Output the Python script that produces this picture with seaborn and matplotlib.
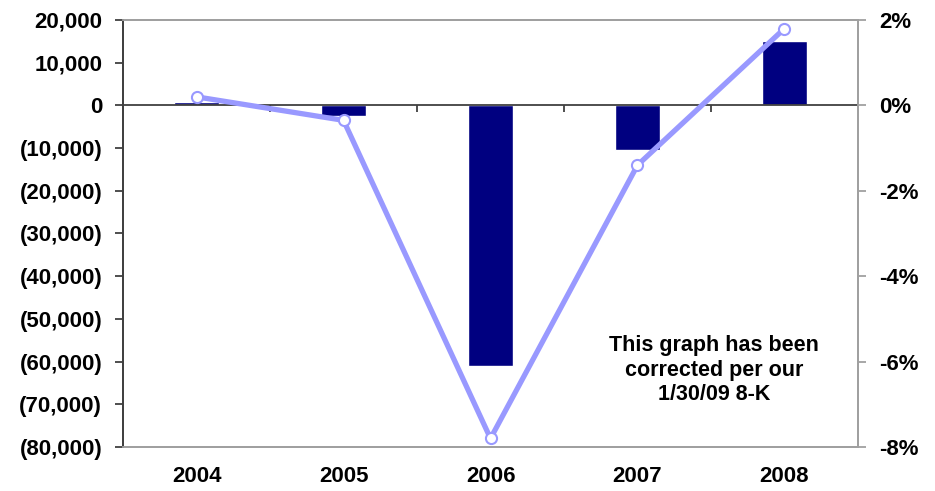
import numpy as np
import pandas as pd
import matplotlib
matplotlib.use("Agg")
import matplotlib.pyplot as plt
import seaborn as sns
from matplotlib.ticker import FuncFormatter

# values
years = ["2004", "2005", "2006", "2007", "2008"]
net_income = [800, -2500, -61000, -10500, 15000]
margin_pct = [0.2, -0.35, -7.8, -1.4, 1.8]
left_ticks = list(range(-80000, 20001, 10000))
right_ticks = list(range(-8, 3, 2))
note = "This graph has been\ncorrected per our\n1/30/09 8-K"

sns.set_style("white")
plt.rcParams['font.family'] = ['Liberation Sans', 'DejaVu Sans']
plt.rcParams['font.weight'] = 'bold'
plt.rcParams['text.color'] = 'black'
plt.rcParams['xtick.labelcolor'] = 'black'
plt.rcParams['ytick.labelcolor'] = 'black'

df = pd.DataFrame({"year": years, "income": net_income, "margin": margin_pct})

fig = plt.figure(figsize=(9.35, 4.91), dpi=100)
ax = fig.add_axes([0.1316, 0.0896, 0.786, 0.8697])

sns.barplot(data=df, x="year", y="income", color="#000080", width=0.3,
            saturation=1, ax=ax)
ax.axhline(0, color="#404040", lw=1.3, zorder=3)
# small separators between categories on the zero line
ax.vlines(np.arange(len(years) - 1) + 0.5, -1600, 0, color="#404040", lw=1.3)

ax.set_ylim(-80000, 20000)
ax.set_yticks(left_ticks)
ax.yaxis.set_major_formatter(FuncFormatter(
    lambda v, p: f"{v:,.0f}" if v >= 0 else f"({-v:,.0f})"))
ax.set_xlabel("")
ax.set_ylabel("")
ax.tick_params(axis="x", length=0, pad=14, labelsize=16, labelcolor="black")
ax.tick_params(axis="y", left=True, length=6, width=1.3, color="#404040",
               pad=9, labelsize=16, labelcolor="black")

ax2 = ax.twinx()
sns.lineplot(x=np.arange(len(years)), y=df["margin"], ax=ax2, color="#9999ff",
             lw=3.8, marker="o", markersize=8, markerfacecolor="white",
             markeredgecolor="#9999ff", markeredgewidth=1.5)
ax2.set_ylim(-8, 2)
ax2.set_yticks(right_ticks)
ax2.yaxis.set_major_formatter(FuncFormatter(lambda v, p: f"{v:.0f}%"))
ax2.set_ylabel("")
ax2.tick_params(axis="y", right=True, length=6, width=1.3, color="#a0a0a0",
                pad=9, labelsize=16, labelcolor="black")
ax.set_xlim(-0.5, len(years) - 0.5)

for a in (ax, ax2):
    for side in ("top", "bottom", "right"):
        a.spines[side].set_color("#a0a0a0")
        a.spines[side].set_linewidth(1.3)
    a.spines["left"].set_color("#404040")
    a.spines["left"].set_linewidth(1.3)

ax.text(0.804, 0.18, note, transform=ax.transAxes, ha="center", va="center",
        fontsize=15.5, fontweight="bold", linespacing=1.2, color="black")

fig.savefig("out.png", dpi=100)
